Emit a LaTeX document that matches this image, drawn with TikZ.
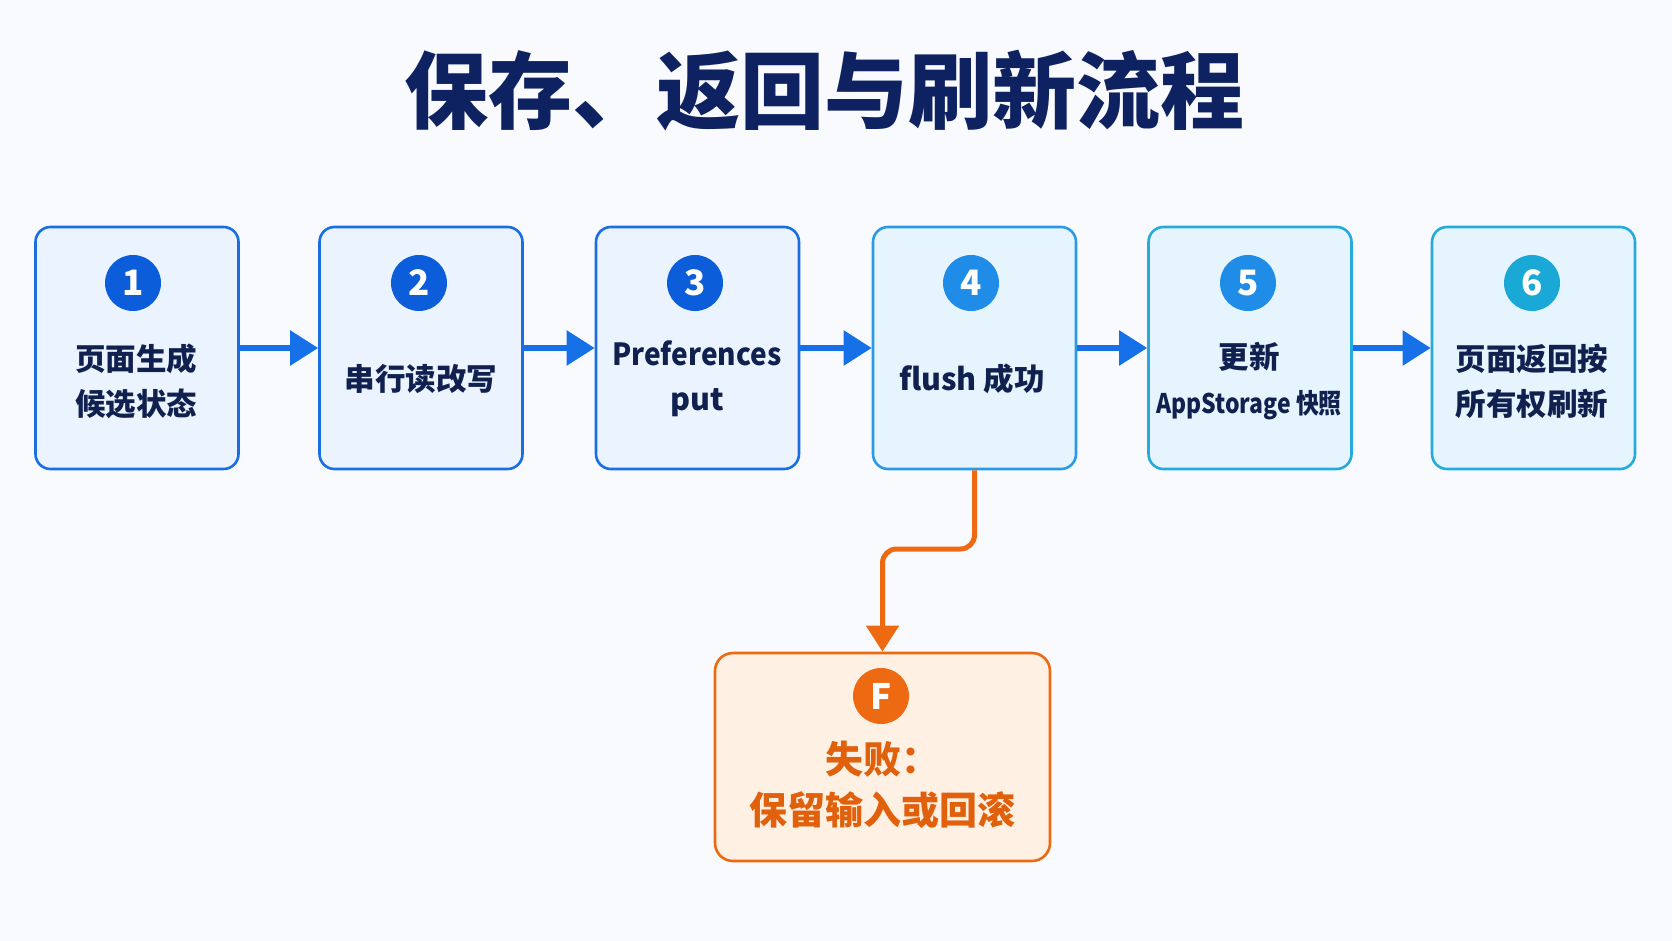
\documentclass[tikz,border=0pt]{standalone}
\usepackage{fontspec}
\setmainfont{Noto Sans CJK SC}
\usetikzlibrary{arrows.meta}
\definecolor{bgc}{HTML}{F8FAFD}
\definecolor{navy}{HTML}{10204F}
\definecolor{titlec}{HTML}{0E2262}
\definecolor{boxfill}{HTML}{EAF3FE}
\definecolor{boxfillc}{HTML}{E6F5FD}
\definecolor{bA}{HTML}{1B6EE2}
\definecolor{bB}{HTML}{2A9AE6}
\definecolor{bC}{HTML}{24AADC}
\definecolor{cA}{HTML}{0C5DD9}
\definecolor{cB}{HTML}{1F8CE8}
\definecolor{cC}{HTML}{1AA8D6}
\definecolor{arr}{HTML}{1670E8}
\definecolor{org}{HTML}{EE6A12}
\definecolor{orgfill}{HTML}{FEF0E3}
\definecolor{orgtext}{HTML}{E0600C}
\tikzset{
  stepbox/.style={draw, line width=2.6pt, rounded corners=15pt, minimum width=203pt, minimum height=242pt},
  numdot/.style={circle, minimum size=56pt, inner sep=0pt, text=white, font=\bfseries\fontsize{35}{35}\selectfont},
  boxtext/.style={text=navy, align=center, font=\bfseries\fontsize{30.5}{45}\selectfont},
  flowarrow/.style={draw=arr, line width=5.5pt, -{Triangle[length=28pt,width=34pt]}},
}
\begin{document}
\begin{tikzpicture}[x=1pt,y=-1pt]
\fill[bgc] (0,0) rectangle (1672,941);
\useasboundingbox (0,0) rectangle (1672,941);
\node[text=titlec, font=\bfseries\fontsize{84}{84}\selectfont] (title) at (824,91) {保存、返回与刷新流程};
% boxes
\node[stepbox, draw=bA, fill=boxfill] (b1) at (137,348) {};
\node[stepbox, draw=bA, fill=boxfill] (b2) at (421,348) {};
\node[stepbox, draw=bA, fill=boxfill] (b3) at (697.5,348) {};
\node[stepbox, draw=bB, fill=boxfillc] (b4) at (974.5,348) {};
\node[stepbox, draw=bC, fill=boxfillc] (b5) at (1250,348) {};
\node[stepbox, draw=bC, fill=boxfillc] (b6) at (1533.5,348) {};
% number dots
\node[numdot, fill=cA] (c1) at (133,283) {1};
\node[numdot, fill=cA] (c2) at (419,283) {2};
\node[numdot, fill=cA] (c3) at (695,283) {3};
\node[numdot, fill=cB] (c4) at (971,283) {4};
\node[numdot, fill=cB] (c5) at (1248,283) {5};
\node[numdot, fill=cC] (c6) at (1532,283) {6};
% texts
\node[boxtext] (t1) at (136,381) {页面生成\\候选状态};
\node[boxtext] (t2) at (421,379) {串行读改写};
\node[boxtext] (t3) at (697,379) {\scalebox{0.92}[1]{Preferences}\\put};
\node[boxtext] (t4) at (972,379) {flush 成功};
\node[boxtext] (t5) at (1249,381) {更新\\{\fontsize{27}{27}\selectfont\scalebox{0.85}[1]{AppStorage 快照}}};
\node[boxtext] (t6) at (1532,381) {页面返回按\\所有权刷新};
% arrows
\draw[flowarrow] (b1.east) -- (b2.west);
\draw[flowarrow] (b2.east) -- (b3.west);
\draw[flowarrow] (b3.east) -- (b4.west);
\draw[flowarrow] (b4.east) -- (b5.west);
\draw[flowarrow] (b5.east) -- (b6.west);
% failure
\node[draw=org, fill=orgfill, line width=2.6pt, rounded corners=18pt, minimum width=335pt, minimum height=208pt] (f) at (882.5,757) {};
\node[circle, fill=org, minimum size=56pt, inner sep=0pt, text=white, font=\bfseries\fontsize{35}{35}\selectfont] (cf) at (881,696) {F};
\node[text=orgtext, align=center, font=\bfseries\fontsize{38}{51}\selectfont] (tf) at (882,785) {失败：\\保留输入或回滚};
\coordinate (k1) at (b4.south |- 0,549);
\coordinate (k2) at (f.north |- 0,549);
\draw[draw=org, line width=5pt, rounded corners=14pt, -{Triangle[length=26pt,width=32pt]}] (b4.south) -- (k1) -- (k2) -- (f.north);
\end{tikzpicture}
\end{document}
